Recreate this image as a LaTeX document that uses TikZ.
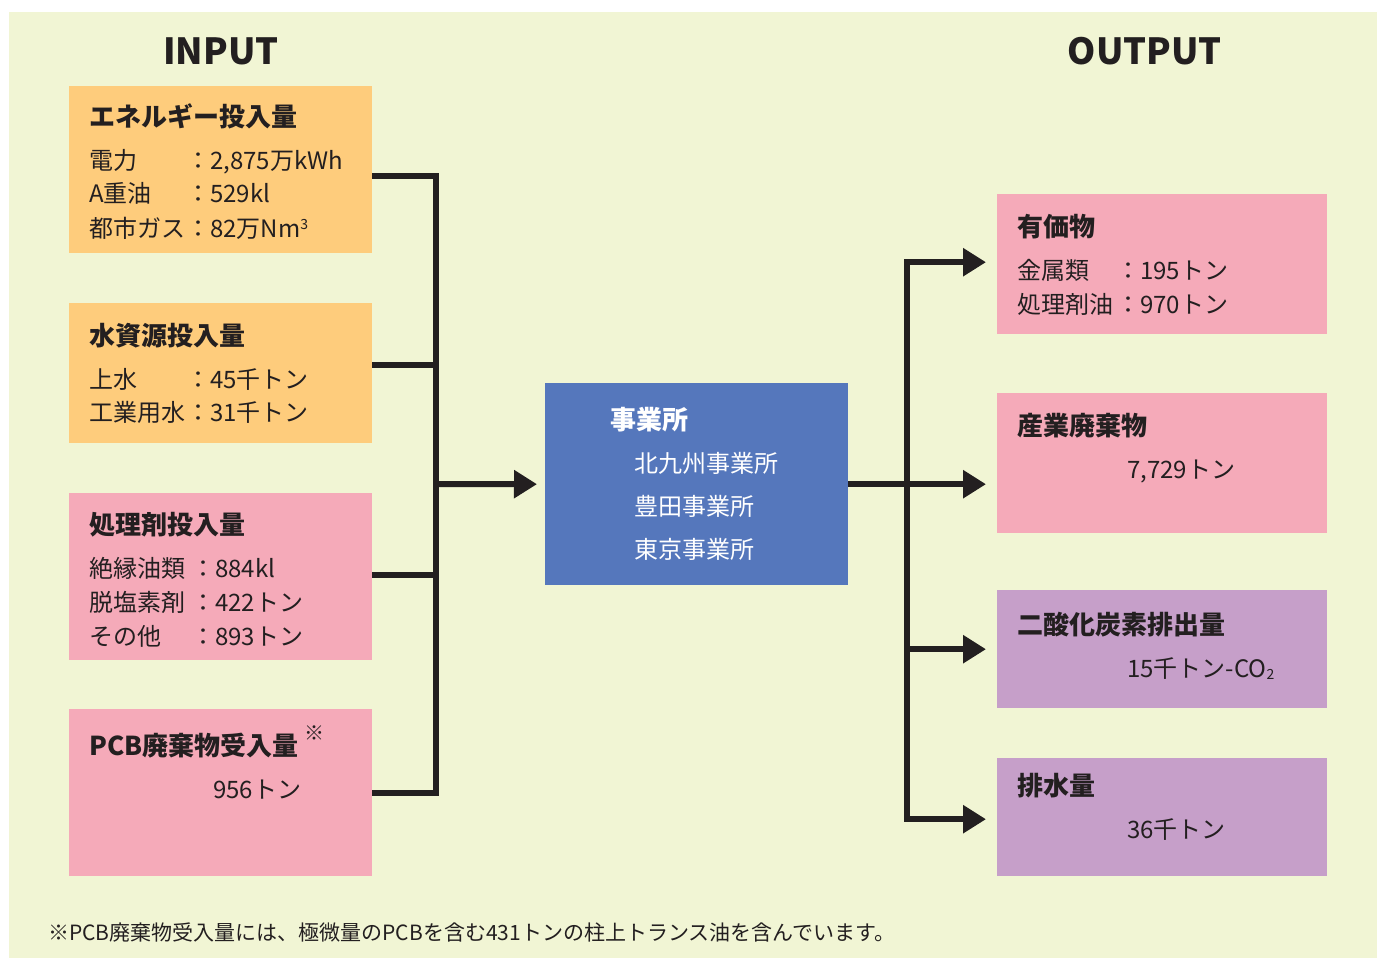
\documentclass[tikz,border=0pt]{standalone}
\usepackage{fontspec}
\setmainfont{Noto Sans CJK JP}
\usetikzlibrary{arrows.meta}
\definecolor{bgc}{HTML}{F1F5D4}
\definecolor{orangec}{HTML}{FECC7C}
\definecolor{pinkc}{HTML}{F5AAB9}
\definecolor{bluec}{HTML}{5577BC}
\definecolor{purplec}{HTML}{C69FC9}
\definecolor{ink}{HTML}{231F20}
\newcommand{\fs}[1]{\fontsize{#1}{#1}\selectfont}
\tikzset{
  box/.style={inner sep=0pt, anchor=north west, draw=none},
  txt/.style={inner sep=0pt, anchor=base west, text=ink, font=\fs{24}},
  head/.style={inner sep=0pt, anchor=base west, text=ink, font=\fs{26}\bfseries},
  title/.style={inner sep=0pt, anchor=base, text=ink, font=\fs{36}\bfseries},
  conn/.style={draw=ink, line width=6pt, line join=miter, line cap=butt},
  arr/.style={conn, -{Triangle[length=23pt,width=27pt]}, shorten >=11pt},
}
\begin{document}
\begin{tikzpicture}[x=1pt,y=-1pt]
\useasboundingbox (0,0) rectangle (1377,958);
\fill[bgc] (9,12) rectangle (1377,958);

% titles
\node[title] (tin) at (221,65) {INPUT};
\node[title] (tout) at (1145,65) {OUTPUT};

% input boxes
\node[box, fill=orangec, minimum width=303pt, minimum height=167pt] (E) at (69,86) {};
\node[box, fill=orangec, minimum width=303pt, minimum height=140pt] (W) at (69,303) {};
\node[box, fill=pinkc, minimum width=303pt, minimum height=167pt] (T) at (69,493) {};
\node[box, fill=pinkc, minimum width=303pt, minimum height=167pt] (P) at (69,709) {};

% center
\node[box, fill=bluec, minimum width=303pt, minimum height=202pt] (C) at (545,383) {};

% output boxes
\node[box, fill=pinkc, minimum width=330pt, minimum height=140pt] (Y1) at (997,194) {};
\node[box, fill=pinkc, minimum width=330pt, minimum height=140pt] (Y2) at (997,393) {};
\node[box, fill=purplec, minimum width=330pt, minimum height=118pt] (Y3) at (997,590) {};
\node[box, fill=purplec, minimum width=330pt, minimum height=118pt] (Y4) at (997,758) {};

% E text
\node[head] (eh) at (89,126) {エネルギー投入量};
\node[txt] (e1) at (89,169) {電力};
\node[txt] (e1v) at (186,169) {：2,875万kWh};
\node[txt] (e2) at (89,202) {A重油};
\node[txt] (e2v) at (186,202) {：529kl};
\node[txt] (e3) at (89,237) {都市ガス};
\node[txt] (e3v) at (186,237) {：82万Nm\raisebox{0.3em}{\fs{14}3}};

% W text
\node[head] (wh) at (89,345) {水資源投入量};
\node[txt] (w1) at (89,388) {上水};
\node[txt] (w1v) at (186,388) {：45千トン};
\node[txt] (w2) at (89,421) {工業用水};
\node[txt] (w2v) at (186,421) {：31千トン};

% T text
\node[head] (th) at (89,534) {処理剤投入量};
\node[txt] (t1) at (89,577) {絶縁油類};
\node[txt] (t1v) at (191,577) {：884kl};
\node[txt] (t2) at (89,611) {脱塩素剤};
\node[txt] (t2v) at (191,611) {：422トン};
\node[txt] (t3) at (89,645) {その他};
\node[txt] (t3v) at (191,645) {：893トン};

% P text
\node[head] (ph) at (89,755) {PCB廃棄物受入量};
\node[txt, font=\fs{20}] (pmark) at (304,740) {※};
\node[txt] (p1) at (213,798) {956トン};

% center text
\node[head, text=white] (ch) at (610,429) {事業所};
\node[txt, text=white] (c1) at (634,472) {北九州事業所};
\node[txt, text=white] (c2) at (634,515) {豊田事業所};
\node[txt, text=white] (c3) at (634,558) {東京事業所};

% output text
\node[head] (y1h) at (1017,236) {有価物};
\node[txt] (y11) at (1017,279) {金属類};
\node[txt] (y11v) at (1116,279) {：195トン};
\node[txt] (y12) at (1017,313) {処理剤油};
\node[txt] (y12v) at (1116,313) {：970トン};

\node[head] (y2h) at (1017,435) {産業廃棄物};
\node[txt] (y21) at (1127,478) {7,729トン};

\node[head] (y3h) at (1017,634) {二酸化炭素排出量};
\node[txt] (y31) at (1127,677) {15千トン-CO\raisebox{-0.1em}{\fs{14}2}};

\node[head] (y4h) at (1017,795) {排水量};
\node[txt] (y41) at (1127,838) {36千トン};

% footnote
\node[txt, font=\fs{21}] (fn) at (48,940) {※PCB廃棄物受入量には、極微量のPCBを含む431トンの柱上トランス油を含んでいます。};

% connectors left
\coordinate (jL) at (436,484);
\draw[conn] ([yshift=-6.5pt]E.east) -| (jL);
\draw[conn] ([yshift=8pt]W.east) -| (jL);
\draw[conn] ([yshift=1.5pt]T.east) -| (jL);
\draw[conn] (P.east) -| (jL);
\draw[arr, shorten >=8pt] (jL) -- (C.west);

% connectors right
\coordinate (jR) at (907,484);
\draw[arr] (C.east) -- ([yshift=-21pt]Y2.west);
\draw[arr] (jR) |- ([yshift=2pt]Y1.west);
\draw[arr] (jR) |- (Y3.west);
\draw[arr] (jR) |- ([yshift=-2pt]Y4.west);
\end{tikzpicture}
\end{document}
